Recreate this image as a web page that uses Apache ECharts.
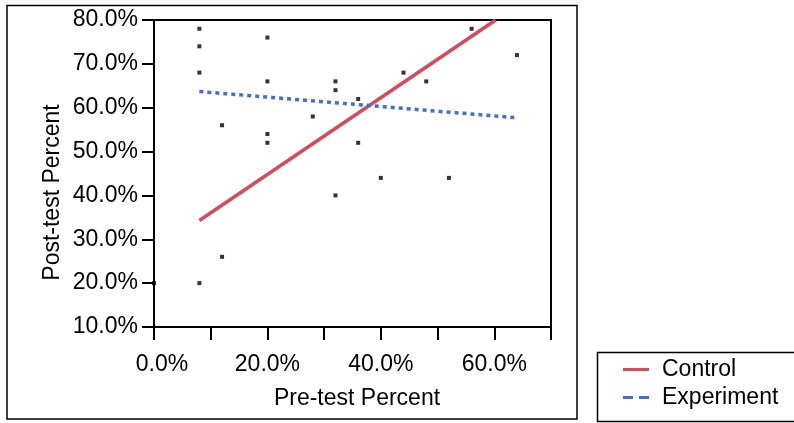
<!DOCTYPE html>
<html><head><meta charset="utf-8">
<script src="https://cdn.jsdelivr.net/npm/echarts@6/dist/echarts.min.js"></script>
<style>html,body{margin:0;padding:0;background:#fff}#c{width:794px;height:423px}</style>
</head><body><div id="c"></div>
<script>
const preTest  = [8, 8, 8, 20, 12, 20, 20, 20, 28, 32, 32, 36, 36, 44, 48, 56, 64, 12, 8, 0, 32, 40, 52];
const postTest = [78, 74, 68, 76, 56, 66, 54, 52, 58, 66, 64, 62, 52, 68, 66, 78, 72, 26, 20, 20, 40, 44, 44];
const controlFitX = [8, 60.25];
const controlFitY = [34.3, 80];
const experimentFitX = [8, 64];
const experimentFitY = [63.7, 57.7];
const seriesNames = ['Control', 'Experiment'];
const xTickLabels = ['0.0%', '20.0%', '40.0%', '60.0%'];
const yTickLabels = ['10.0%', '20.0%', '30.0%', '40.0%', '50.0%', '60.0%', '70.0%', '80.0%'];

const FONT = 'Liberation Sans, Arial, Helvetica, sans-serif';
const FS = 23;
const RED = '#d64a5a';
const BLUE = '#3f6fdf';

const pts = preTest.map((x, i) => [x, postTest[i]]);
const ctl = controlFitX.map((x, i) => [x, controlFitY[i]]);
const exp = experimentFitX.map((x, i) => [x, experimentFitY[i]]);

const chart = echarts.init(document.getElementById('c'), null, {renderer: 'canvas'});
chart.setOption({
  animation: false,
  backgroundColor: '#fff',
  textStyle: {fontFamily: FONT},
  grid: {left: 154, top: 20, width: 397, height: 307, show: true, borderColor: '#000', borderWidth: 2, backgroundColor: 'transparent'},
  xAxis: {
    type: 'value', min: 0, max: 70, interval: 10,
    name: 'Pre-test Percent', nameLocation: 'middle', nameGap: 60,
    nameTextStyle: {fontFamily: FONT, fontSize: FS, color: '#000', padding: [0, 0, 0, 9]},
    axisLine: {show: true, onZero: false, lineStyle: {color: '#000', width: 2}},
    axisTick: {show: true, length: 13, lineStyle: {color: '#000', width: 2}},
    splitLine: {show: false},
    axisLabel: {
      margin: 26, fontFamily: FONT, fontSize: FS, color: '#000',
      formatter: v => {
        if (v % 20 !== 0 || !xTickLabels[v / 20]) return '';
        return v === 0 ? '{first|' + xTickLabels[0] + '}' : xTickLabels[v / 20];
      },
      rich: {first: {fontFamily: FONT, fontSize: FS, color: '#000', padding: [0, 0, 0, 16]}}
    }
  },
  yAxis: {
    type: 'value', min: 10, max: 80, interval: 10,
    name: 'Post-test Percent', nameLocation: 'middle', nameGap: 90,
    nameTextStyle: {fontFamily: FONT, fontSize: FS, color: '#000', padding: [0, 38, 0, 0]},
    axisLine: {show: true, onZero: false, lineStyle: {color: '#000', width: 2}},
    axisTick: {show: true, length: 12, lineStyle: {color: '#000', width: 2}},
    splitLine: {show: false},
    axisLabel: {
      margin: 16, fontFamily: FONT, fontSize: FS, color: '#000',
      formatter: v => yTickLabels[Math.round((v - 10) / 10)] || ''
    }
  },
  legend: {
    orient: 'vertical', left: 623, top: 358, padding: 0,
    itemWidth: 26, itemHeight: 14, itemGap: 5,
    textStyle: {fontFamily: FONT, fontSize: FS, color: '#000', padding: [0, 0, 0, 8]},
    data: [
      {name: seriesNames[0], icon: 'path://M0,0L26,0L26,3L0,3Z', itemStyle: {color: RED}},
      {name: seriesNames[1], icon: 'path://M0,0L10,0L10,3L0,3ZM16,0L26,0L26,3L16,3Z', itemStyle: {color: BLUE}}
    ]
  },
  graphic: [
    {type: 'rect', shape: {x: 7, y: 5.5, width: 570, height: 413.5}, style: {fill: 'none', stroke: '#000', lineWidth: 1.5}, silent: true},
    {type: 'rect', shape: {x: 597.5, y: 352.5, width: 210, height: 69}, style: {fill: 'none', stroke: '#000', lineWidth: 1.5}, silent: true}
  ],
  series: [
    {
      name: 'Points', type: 'scatter', data: pts, symbol: 'rect', symbolSize: 4,
      itemStyle: {color: '#000'}, z: 5
    },
    {
      name: seriesNames[0], type: 'line', data: ctl, symbol: 'none', showSymbol: false,
      lineStyle: {color: RED, width: 3.5}, itemStyle: {color: RED}, z: 3
    },
    {
      name: seriesNames[1], type: 'line', data: exp, symbol: 'none', showSymbol: false,
      lineStyle: {color: BLUE, width: 3.5, type: [4, 4], cap: 'butt'}, itemStyle: {color: BLUE}, z: 3
    }
  ]
});
</script></body></html>
